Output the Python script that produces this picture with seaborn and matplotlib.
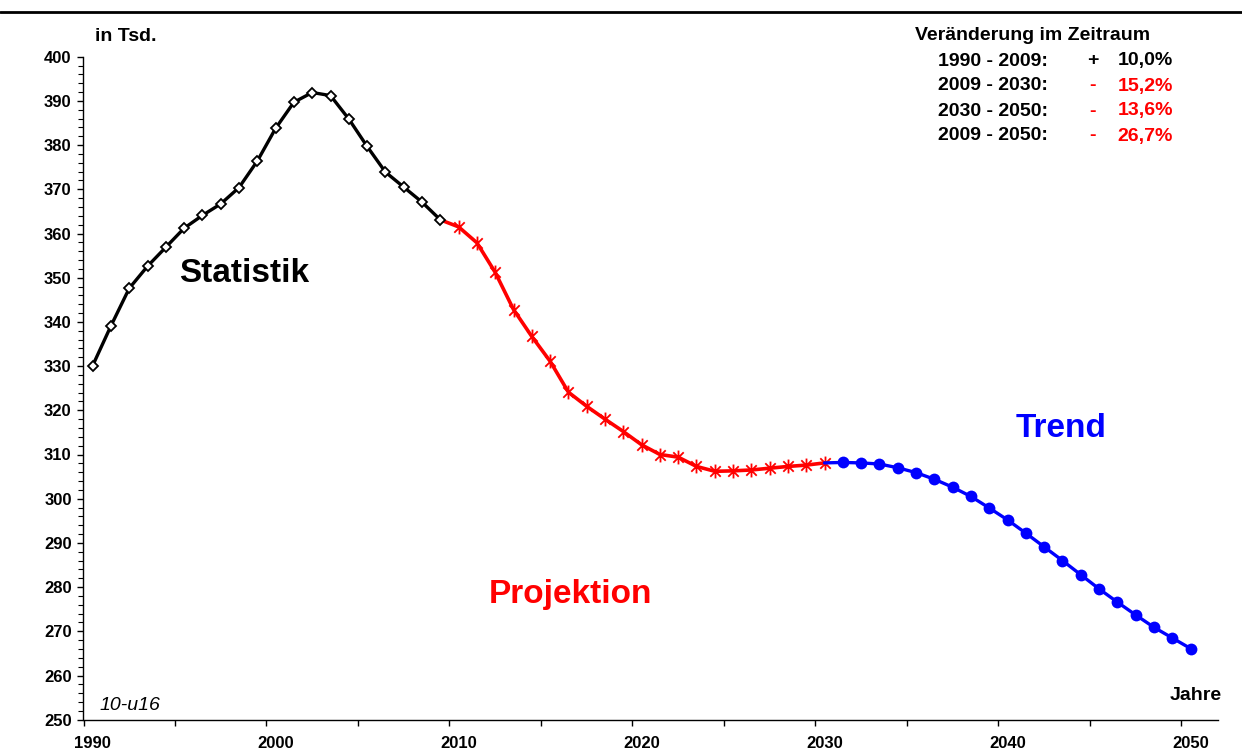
import numpy as np
import pandas as pd
import matplotlib
matplotlib.use("Agg")
import matplotlib.pyplot as plt
from matplotlib.path import Path
from matplotlib.lines import Line2D
from matplotlib.ticker import FixedLocator, NullFormatter
import seaborn as sns

# ---------------- data ----------------
years_stat = list(range(1990, 2010))
stat = [330.1, 339.1, 347.6, 352.6, 356.9, 361.2, 364.1, 366.7, 370.4, 376.4,
        383.8, 389.7, 391.9, 391.2, 385.9, 379.7, 373.9, 370.5, 367.1, 363.1]

years_proj = list(range(2010, 2031))
proj = [361.5, 357.9, 351.2, 342.8, 336.7, 331.1, 324.1, 320.9, 318.0, 315.2,
        312.2, 310.0, 309.4, 307.3, 306.2, 306.3, 306.5, 306.9, 307.3, 307.6, 308.1]

years_trend = list(range(2031, 2051))
trend = [308.2, 308.1, 307.85, 307.0, 305.9, 304.4, 302.6, 300.5, 297.9, 295.2,
         292.2, 289.1, 286.0, 282.8, 279.6, 276.6, 273.7, 270.9, 268.5, 266.1]

x_labels = [1990, 2000, 2010, 2020, 2030, 2040, 2050]
y_ticks = list(range(250, 401, 10))

legend_title = "Veränderung im Zeitraum"
legend_periods = ["1990 - 2009:", "2009 - 2030:", "2030 - 2050:", "2009 - 2050:"]
legend_signs = ["+", "-", "-", "-"]
legend_values = ["10,0%", "15,2%", "13,6%", "26,7%"]
legend_colors = ["black", "red", "red", "red"]

# ---------------- style ----------------
sns.set_theme(style="white")
plt.rcParams["font.family"] = ["Liberation Sans", "DejaVu Sans"]
plt.rcParams["font.weight"] = "bold"
plt.rcParams["text.color"] = "black"
plt.rcParams["axes.labelcolor"] = "black"
plt.rcParams["xtick.color"] = "black"
plt.rcParams["ytick.color"] = "black"

W, H = 1242, 752
fig = plt.figure(figsize=(W / 100, H / 100), dpi=100)
fig.patch.set_facecolor("white")

def fx(px):
    return px / W

def fy(py):
    return 1 - py / H

left, right, top, bottom = 83.5, 1218, 56.7, 719.7
ax = fig.add_axes([fx(left), fy(bottom), fx(right) - fx(left), fy(top) - fy(bottom)])
ax.set_facecolor("white")

# series frames (connecting segments include previous end point)
df_stat = pd.DataFrame({"Jahr": years_stat, "Wert": stat})
df_proj = pd.DataFrame({"Jahr": [years_stat[-1]] + years_proj, "Wert": [stat[-1]] + proj})
df_trend = pd.DataFrame({"Jahr": [years_proj[-1]] + years_trend, "Wert": [proj[-1]] + trend})

star = Path(
    [(0, -1), (0, 1), (-0.75, -0.75), (0.75, 0.75), (-0.75, 0.75), (0.75, -0.75)],
    [Path.MOVETO, Path.LINETO, Path.MOVETO, Path.LINETO, Path.MOVETO, Path.LINETO],
)

sns.lineplot(data=df_proj, x="Jahr", y="Wert", ax=ax, color="red", linewidth=2.6,
             marker=star, markersize=10, markeredgewidth=1.3, markeredgecolor="red",
             markevery=slice(1, None), zorder=3)
sns.lineplot(data=df_trend, x="Jahr", y="Wert", ax=ax, color="blue", linewidth=2.4,
             marker="o", markersize=8.5, markeredgewidth=0, markerfacecolor="blue",
             markevery=slice(1, None), zorder=3)
sns.lineplot(data=df_stat, x="Jahr", y="Wert", ax=ax, color="black", linewidth=2.4,
             marker="D", markersize=5.4, markeredgewidth=1.3, markerfacecolor="white",
             markeredgecolor="black", zorder=4)

ax.set_xlim(1989.5, 2051.5)
ax.set_ylim(250, 400)
ax.set_xlabel("")
ax.set_ylabel("")

for s in ["top", "right"]:
    ax.spines[s].set_visible(False)
for s in ["left", "bottom"]:
    ax.spines[s].set_color("black")
    ax.spines[s].set_linewidth(1.0)

# x axis: tick marks between categories, labels on categories
ax.xaxis.set_major_locator(FixedLocator([1989.5 + 5 * k for k in range(13)]))
ax.xaxis.set_major_formatter(NullFormatter())
ax.xaxis.set_minor_locator(FixedLocator(x_labels))
ax.set_xticklabels([str(v) for v in x_labels], minor=True)
ax.tick_params(axis="x", which="major", direction="out", length=4, width=1.0,
               color="black", bottom=True)
ax.tick_params(axis="x", which="minor", length=0, pad=12, labelsize=12,
               labelcolor="black", bottom=True)

ax.yaxis.set_major_locator(FixedLocator(y_ticks))
ax.yaxis.set_minor_locator(FixedLocator(list(range(250, 401, 2))))
ax.set_yticklabels([str(v) for v in y_ticks])
ax.tick_params(axis="y", which="major", direction="out", length=4.5, width=1.0,
               color="black", pad=4, labelsize=12, labelcolor="black", left=True)
ax.tick_params(axis="y", which="minor", direction="out", length=3.5, width=0.8,
               color="black", left=True)
for lab in ax.get_xticklabels(minor=True) + ax.get_yticklabels():
    lab.set_fontweight("bold")
    lab.set_color("black")
ax.grid(False)

# top rule
fig.add_artist(Line2D([0, 1], [fy(11.7), fy(11.7)], transform=fig.transFigure,
                      color="black", linewidth=2.0))

# texts
fig.text(fx(95), fy(40.7), "in Tsd.", fontsize=14, fontweight="bold", color="black",
         ha="left", va="baseline")
fig.text(fx(1170), fy(700), "Jahre", fontsize=14, fontweight="bold", color="black",
         ha="left", va="baseline")
fig.text(fx(179), fy(281.7), "Statistik", fontsize=24, fontweight="bold", color="black",
         ha="left", va="baseline")
fig.text(fx(489), fy(603), "Projektion", fontsize=24, fontweight="bold", color="red",
         ha="left", va="baseline")
fig.text(fx(1016), fy(436.7), "Trend", fontsize=24, fontweight="bold", color="blue",
         ha="left", va="baseline")
fig.text(fx(100), fy(710), "10-u16", fontsize=14, fontstyle="italic", fontweight="normal",
         color="black", family=["Liberation Sans Narrow", "Liberation Sans", "DejaVu Sans"],
         ha="left", va="baseline")

fig.text(fx(915), fy(40), legend_title, fontsize=14, fontweight="bold", color="black",
         ha="left", va="baseline")
for i, (p, s, v, c) in enumerate(zip(legend_periods, legend_signs, legend_values, legend_colors)):
    yb = 65.5 + 25 * i
    fig.text(fx(938), fy(yb), p, fontsize=14, fontweight="bold", color="black",
             ha="left", va="baseline")
    fig.text(fx(1093), fy(yb), s, fontsize=14, fontweight="bold", color=c, ha="center", va="baseline")
    fig.text(fx(1173), fy(yb), v, fontsize=14, fontweight="bold", color=c, ha="right", va="baseline")

fig.savefig("out.png", dpi=100, facecolor="white")
